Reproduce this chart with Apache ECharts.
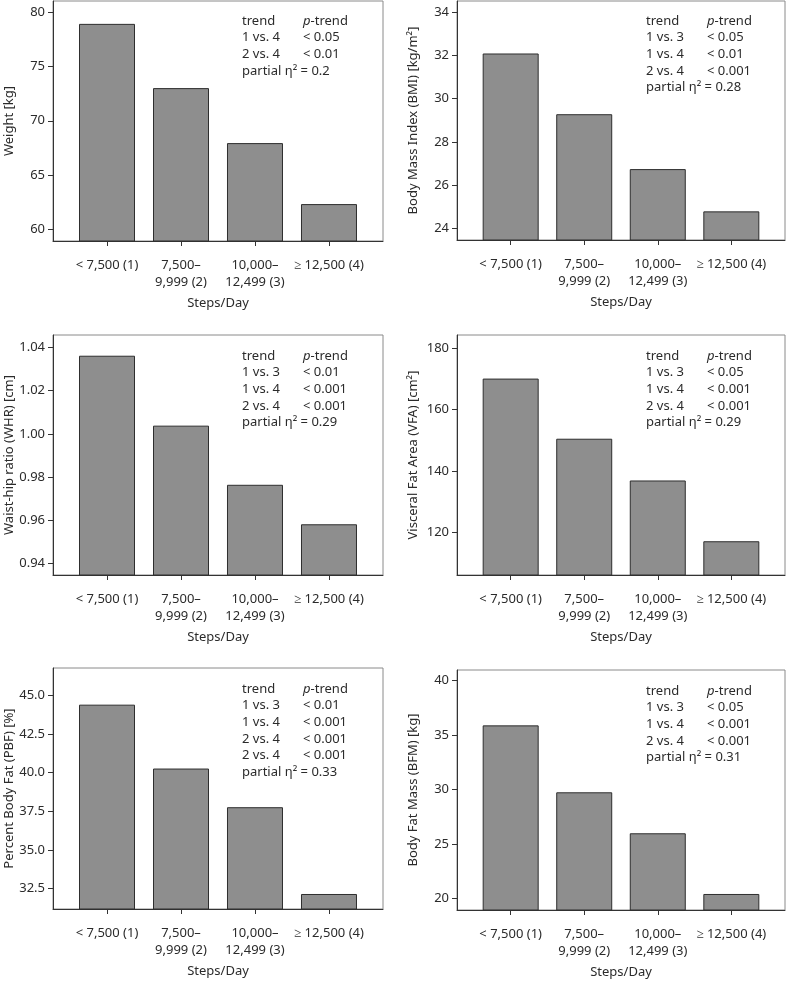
<!DOCTYPE html>
<html>
<head>
<meta charset="utf-8">
<script src="https://cdn.jsdelivr.net/npm/echarts@6/dist/echarts.min.js"></script>
<style>
html,body{margin:0;padding:0;background:#fff;}
#chart{width:788px;height:981px;}
</style>
</head>
<body>
<div id="chart"></div>
<script>
// ---- data ----
const categories = ['< 7,500 (1)', '7,500–\n9,999 (2)', '10,000–\n12,499 (3)', '≥ 12,500 (4)'];
const xPositions = [1, 2, 3, 4];

const weightValues = [78.9, 73.0, 67.95, 62.35];
const bmiValues = [32.08, 29.28, 26.75, 24.8];
const whrValues = [1.0362, 1.0038, 0.9764, 0.9581];
const vfaValues = [170.1, 150.5, 136.9, 117.1];
const pbfValues = [44.4, 40.27, 37.77, 32.16];
const bfmValues = [35.9, 29.76, 26.0, 20.43];

const weightTicks = [60, 65, 70, 75, 80];
const bmiTicks = [24, 26, 28, 30, 32, 34];
const whrTicks = [0.94, 0.96, 0.98, 1.00, 1.02, 1.04];
const vfaTicks = [120, 140, 160, 180];
const pbfTicks = [32.5, 35.0, 37.5, 40.0, 42.5, 45.0];
const bfmTicks = [20, 25, 30, 35, 40];

const yTitles = ['Weight [kg]', 'Body Mass Index (BMI) [kg/m²]', 'Waist-hip ratio (WHR) [cm]',
  'Visceral Fat Area (VFA) [cm²]', 'Percent Body Fat (PBF) [%]', 'Body Fat Mass (BFM) [kg]'];
const xTitle = 'Steps/Day';

const comparisons = [
  ['1 vs. 4', '2 vs. 4'],
  ['1 vs. 3', '1 vs. 4', '2 vs. 4'],
  ['1 vs. 3', '1 vs. 4', '2 vs. 4'],
  ['1 vs. 3', '1 vs. 4', '2 vs. 4'],
  ['1 vs. 3', '1 vs. 4', '2 vs. 4', '2 vs. 4'],
  ['1 vs. 3', '1 vs. 4', '2 vs. 4']
];
const pTrends = [
  ['< 0.05', '< 0.01'],
  ['< 0.05', '< 0.01', '< 0.001'],
  ['< 0.01', '< 0.001', '< 0.001'],
  ['< 0.05', '< 0.001', '< 0.001'],
  ['< 0.01', '< 0.001', '< 0.001', '< 0.001'],
  ['< 0.05', '< 0.001', '< 0.001']
];
const etaSquared = ['0.2', '0.28', '0.29', '0.29', '0.33', '0.31'];

// ---- layout ----
const FONT = 'Noto Sans';
const TXT = '#2b2b2b';
const DARK = '#333';
const panels = [
  {values: weightValues, ticks: weightTicks, dec: 0, min: 58.96, max: 81.0, left: 53, top: 1, width: 330, height: 240},
  {values: bmiValues, ticks: bmiTicks, dec: 0, min: 23.48, max: 34.5, left: 457, top: 1, width: 328, height: 239},
  {values: whrValues, ticks: whrTicks, dec: 2, min: 0.9346, max: 1.0458, left: 53, top: 335, width: 330, height: 240},
  {values: vfaValues, ticks: vfaTicks, dec: 0, min: 106.1, max: 184.3, left: 457, top: 335, width: 328, height: 240},
  {values: pbfValues, ticks: pbfTicks, dec: 1, min: 31.19, max: 46.77, left: 53, top: 668, width: 330, height: 241},
  {values: bfmValues, ticks: bfmTicks, dec: 0, min: 18.96, max: 40.98, left: 457, top: 670, width: 328, height: 240}
];

const grid = [], xAxis = [], yAxis = [], series = [], graphic = [];
panels.forEach((p, i) => {
  grid.push({left: p.left, top: p.top, width: p.width, height: p.height,
    show: true, borderColor: '#8a8a8a', borderWidth: 1, backgroundColor: 'transparent'});
  xAxis.push({
    type: 'value', gridIndex: i, min: 0.27, max: 4.73,
    name: xTitle, nameLocation: 'middle', nameGap: 56,
    nameTextStyle: {fontFamily: FONT, fontSize: 13, color: TXT},
    axisLine: {show: true, onZero: false, lineStyle: {color: DARK, width: 1}},
    axisTick: {show: true, customValues: xPositions, length: 5, lineStyle: {color: DARK}},
    axisLabel: {customValues: xPositions, margin: 16, fontFamily: FONT, fontSize: 13, color: TXT,
      lineHeight: 17, formatter: v => categories[Math.round(v) - 1]},
    splitLine: {show: false}
  });
  yAxis.push({
    type: 'value', gridIndex: i, min: p.min, max: p.max,
    name: yTitles[i], nameLocation: 'middle', nameGap: 37,
    nameTextStyle: {fontFamily: FONT, fontSize: 13, color: TXT},
    axisLine: {show: true, onZero: false, lineStyle: {color: DARK, width: 1}},
    axisTick: {show: true, customValues: p.ticks, length: 5, lineStyle: {color: DARK}},
    axisLabel: {customValues: p.ticks, margin: 8, fontFamily: FONT, fontSize: 13, color: TXT,
      formatter: v => v.toFixed(p.dec)},
    splitLine: {show: false}
  });
  series.push({
    type: 'bar', xAxisIndex: i, yAxisIndex: i, barWidth: 56, clip: true,
    itemStyle: {color: '#8e8e8e', borderColor: '#2e2e2e', borderWidth: 1},
    data: xPositions.map((x, k) => [x, p.values[k]])
  });
  const col1 = ['trend'].concat(comparisons[i]).concat(['partial η² = ' + etaSquared[i]]);
  const col2 = ['{i|p}-trend'].concat(pTrends[i]);
  const lh = 16.6;
  const top0 = (i < 2 ? 0 : p.top) + 21 - lh / 2;
  graphic.push({
    type: 'text', left: p.left + 189, top: top0, silent: true,
    style: {text: col1.join('\n'), font: '13px "' + FONT + '"', fill: TXT, lineHeight: lh}
  });
  graphic.push({
    type: 'text', left: p.left + 250, top: top0, silent: true,
    style: {text: col2.join('\n'), font: '13px "' + FONT + '"', fill: TXT, lineHeight: lh,
      rich: {i: {fontStyle: 'italic', fontFamily: FONT, fontSize: 13, fill: TXT, lineHeight: lh}}}
  });
});

const chart = echarts.init(document.getElementById('chart'), null, {renderer: 'canvas'});
chart.setOption({
  animation: false,
  backgroundColor: '#fff',
  grid, xAxis, yAxis, series, graphic
});
</script>
</body>
</html>
